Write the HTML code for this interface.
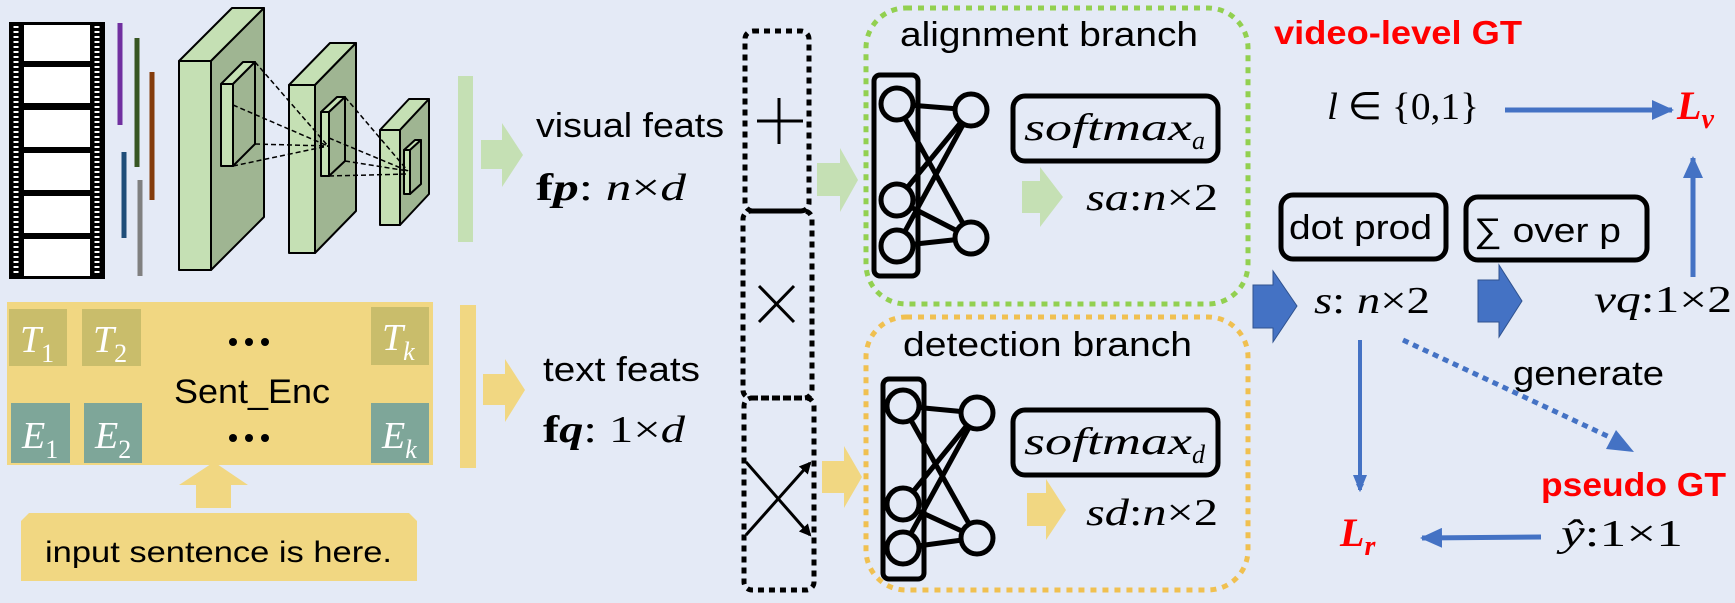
<!DOCTYPE html>
<html><head><meta charset="utf-8"><style>
html,body{margin:0;padding:0;background:#e4eaf6;}
svg{display:block;}
text{font-family:"Liberation Sans",sans-serif;}
.m{font-family:"Liberation Serif",serif;font-style:italic;}
.mr{font-family:"Liberation Serif",serif;}
</style></head><body>
<svg width="1735" height="603" viewBox="0 0 1735 603" xmlns="http://www.w3.org/2000/svg">
<defs>
<marker id="ab" markerWidth="8" markerHeight="8" refX="6" refY="4" orient="auto" markerUnits="userSpaceOnUse"><path d="M0,0 L8,4 L0,8z" fill="#4472c4"/></marker>
<marker id="ab2" markerWidth="22" markerHeight="20" refX="20" refY="10" orient="auto" markerUnits="userSpaceOnUse"><path d="M0,0 L22,10 L0,20z" fill="#4472c4"/></marker>
<marker id="ak" markerWidth="12" markerHeight="12" refX="10" refY="6" orient="auto" markerUnits="userSpaceOnUse"><path d="M0,0 L12,6 L0,12z" fill="#000"/></marker>
</defs>
<rect width="1735" height="603" fill="#e4eaf6"/>

<rect x="9" y="22" width="96" height="257" fill="#000"/>
<g fill="#fff">
<rect x="24" y="25" width="66" height="36"/><rect x="24" y="67" width="66" height="36"/><rect x="24" y="110" width="66" height="37"/><rect x="24" y="153" width="66" height="37"/><rect x="24" y="196" width="66" height="37"/><rect x="24" y="239" width="66" height="37"/>
</g>
<g stroke-width="5">
<line x1="16" y1="26" x2="16" y2="276" stroke="#fff" stroke-dasharray="2,3"/>
<line x1="97" y1="26" x2="97" y2="276" stroke="#fff" stroke-dasharray="2,3"/>
</g>
<g stroke-width="5">
<line x1="120" y1="23" x2="120" y2="125" stroke="#7030a0"/>
<line x1="137" y1="38" x2="137" y2="167" stroke="#375623"/>
<line x1="152" y1="72" x2="152" y2="200" stroke="#843c0c"/>
<line x1="124" y1="152" x2="124" y2="238" stroke="#1f4e79"/>
<line x1="140" y1="180" x2="140" y2="276" stroke="#808080"/>
</g>
<g stroke="#000" stroke-width="2" stroke-linejoin="round">
<polygon points="179,61 232,8 264,8 211,61" fill="#c5e0b4"/>
<polygon points="211,61 264,8 264,217 211,270" fill="#9fb592"/>
<rect x="179" y="61" width="32" height="209" fill="#c5e0b4"/>
<polygon points="221,84 243,62 255,62 233,84" fill="#c5e0b4"/>
<polygon points="233,84 255,62 255,144 233,166" fill="#9fb592"/>
<rect x="221" y="84" width="12" height="82" fill="#c5e0b4"/>
<polygon points="289,85 330,43 356,43 315,85" fill="#c5e0b4"/>
<polygon points="315,85 356,43 356,211 315,253" fill="#9fb592"/>
<rect x="289" y="85" width="26" height="168" fill="#c5e0b4"/>
<polygon points="321,112 337,97 345,97 329,112" fill="#c5e0b4"/>
<polygon points="329,112 345,97 345,161 329,176" fill="#9fb592"/>
<rect x="321" y="112" width="8" height="64" fill="#c5e0b4"/>
<polygon points="380,130 409,99 429,99 400,130" fill="#c5e0b4"/>
<polygon points="400,130 429,99 429,194 400,225" fill="#9fb592"/>
<rect x="380" y="130" width="20" height="95" fill="#c5e0b4"/>
<polygon points="404,150 415,140 421,140 410,150" fill="#c5e0b4"/>
<polygon points="410,150 421,140 421,184 410,194" fill="#9fb592"/>
<rect x="404" y="150" width="6" height="44" fill="#c5e0b4"/>
</g>
<g stroke="#000" stroke-width="1.5" stroke-dasharray="5,3" fill="none">
<line x1="255" y1="62" x2="328" y2="146"/><line x1="233" y1="105" x2="328" y2="146"/><line x1="255" y1="144" x2="328" y2="146"/><line x1="233" y1="166" x2="328" y2="146"/>
<line x1="345" y1="97" x2="408" y2="171"/><line x1="329" y1="138" x2="408" y2="171"/><line x1="345" y1="161" x2="408" y2="171"/><line x1="329" y1="176" x2="408" y2="174"/>
</g>
<rect x="458" y="76" width="15" height="166" fill="#c5e0b4"/>
<polygon points="481,140 502,140 502,123 523,155 502,187 502,169 481,169" fill="#c5e0b4"/>
<text x="536" y="137" font-size="34" textLength="188" lengthAdjust="spacingAndGlyphs">visual feats</text>
<text x="536" y="200" font-size="38" class="mr" font-weight="bold" textLength="150" lengthAdjust="spacingAndGlyphs">f<tspan class="m">p</tspan><tspan font-weight="normal">: </tspan><tspan class="m" font-weight="normal">n</tspan><tspan font-weight="normal">×</tspan><tspan class="m" font-weight="normal">d</tspan></text>

<rect x="7" y="302" width="426" height="163" fill="#f1d782"/>
<rect x="9" y="309" width="58" height="57" fill="#c9bd6b"/>
<rect x="82" y="309" width="59" height="57" fill="#c9bd6b"/>
<rect x="371" y="307" width="58" height="58" fill="#c9bd6b"/>
<rect x="11" y="403" width="59" height="60" fill="#7ea699"/>
<rect x="84" y="403" width="58" height="60" fill="#7ea699"/>
<rect x="371" y="403" width="58" height="60" fill="#7ea699"/>
<g fill="#fff" font-size="38">
<text x="20" y="352" class="m">T<tspan font-size="26" font-style="normal" dy="10">1</tspan></text>
<text x="93" y="352" class="m">T<tspan font-size="26" font-style="normal" dy="10">2</tspan></text>
<text x="382" y="350" class="m">T<tspan font-size="26" dy="10">k</tspan></text>
<text x="22" y="448" class="m">E<tspan font-size="26" font-style="normal" dy="10">1</tspan></text>
<text x="95" y="448" class="m">E<tspan font-size="26" font-style="normal" dy="10">2</tspan></text>
<text x="382" y="448" class="m">E<tspan font-size="26" dy="10">k</tspan></text>
</g>
<g fill="#000"><circle cx="233" cy="342" r="4"/><circle cx="249" cy="342" r="4"/><circle cx="265" cy="342" r="4"/>
<circle cx="233" cy="438" r="4"/><circle cx="249" cy="438" r="4"/><circle cx="265" cy="438" r="4"/></g>
<text x="174" y="403" font-size="34" textLength="156" lengthAdjust="spacingAndGlyphs">Sent_Enc</text>
<polygon points="196,508 231,508 231,485 248,485 214,462 179,485 196,485" fill="#f1d782"/>
<polygon points="29,513 409,513 417,521 417,581 21,581 21,521" fill="#f1d782"/>
<text x="45" y="562" font-size="30" textLength="347" lengthAdjust="spacingAndGlyphs">input sentence is here.</text>
<rect x="460" y="305" width="16" height="163" fill="#f1d782"/>
<polygon points="483,374 505,374 505,359 525,390 505,422 505,405 483,405" fill="#f1d782"/>
<text x="543" y="381" font-size="34" textLength="157" lengthAdjust="spacingAndGlyphs">text feats</text>
<text x="543" y="442" font-size="38" class="mr" font-weight="bold" textLength="142" lengthAdjust="spacingAndGlyphs">f<tspan class="m">q</tspan><tspan font-weight="normal">: 1×</tspan><tspan class="m" font-weight="normal">d</tspan></text>

<g fill="none" stroke="#000" stroke-width="5" stroke-dasharray="6,5">
<rect x="745" y="31" width="64" height="180" rx="8"/>
<rect x="743" y="211" width="69" height="187" rx="8"/>
<rect x="744" y="398" width="70" height="192" rx="8"/>
</g>
<g stroke="#000" stroke-width="3">
<line x1="757" y1="121" x2="803" y2="121"/><line x1="779" y1="98" x2="779" y2="144"/>
<line x1="759" y1="286" x2="794" y2="322"/><line x1="794" y1="286" x2="759" y2="322"/>
<line x1="746" y1="462" x2="810" y2="535" marker-end="url(#ak)"/>
<line x1="746" y1="535" x2="810" y2="463" marker-end="url(#ak)"/>
</g>
<polygon points="817,163 840,163 840,148 858,180 840,212 840,196 817,196" fill="#c5e0b4"/>
<polygon points="822,461 844,461 844,446 862,477 844,508 844,493 822,493" fill="#f1d782"/>

<rect x="866" y="8" width="382" height="296" rx="40" fill="none" stroke="#92d050" stroke-width="5" stroke-dasharray="6,6"/>
<rect x="866" y="317" width="382" height="273" rx="40" fill="none" stroke="#f0c050" stroke-width="5" stroke-dasharray="6,6"/>
<text x="900" y="46" font-size="34" textLength="298" lengthAdjust="spacingAndGlyphs">alignment branch</text>
<text x="903" y="356" font-size="34" textLength="289" lengthAdjust="spacingAndGlyphs">detection branch</text>

<g fill="none" stroke="#000" stroke-width="5">
<rect x="874" y="75" width="44" height="201" rx="6"/>
<line x1="897" y1="104" x2="971" y2="110"/><line x1="897" y1="104" x2="971" y2="238"/>
<line x1="897" y1="200" x2="971" y2="110"/><line x1="897" y1="200" x2="971" y2="238"/>
<line x1="897" y1="246" x2="971" y2="110"/><line x1="897" y1="246" x2="971" y2="238"/>
</g>
<g fill="#e4eaf6" stroke="#000" stroke-width="5">
<circle cx="897" cy="104" r="16"/><circle cx="897" cy="200" r="16"/><circle cx="897" cy="246" r="16"/>
<circle cx="971" cy="110" r="16"/><circle cx="971" cy="238" r="16"/>
</g>
<g fill="none" stroke="#000" stroke-width="5">
<rect x="883" y="379" width="41" height="200" rx="6"/>
<line x1="903" y1="406" x2="977" y2="413"/><line x1="903" y1="406" x2="977" y2="538"/>
<line x1="903" y1="504" x2="977" y2="413"/><line x1="903" y1="504" x2="977" y2="538"/>
<line x1="903" y1="548" x2="977" y2="413"/><line x1="903" y1="548" x2="977" y2="538"/>
</g>
<g fill="#e4eaf6" stroke="#000" stroke-width="5">
<circle cx="903" cy="406" r="16"/><circle cx="903" cy="504" r="16"/><circle cx="903" cy="548" r="16"/>
<circle cx="977" cy="413" r="16"/><circle cx="977" cy="538" r="16"/>
</g>

<rect x="1013" y="96" width="205" height="65" rx="12" fill="none" stroke="#000" stroke-width="5"/>
<text x="1024" y="140" font-size="38" class="m" textLength="168" lengthAdjust="spacingAndGlyphs">softmax</text><text x="1192" y="149" font-size="26" class="m">a</text>
<rect x="1013" y="410" width="205" height="65" rx="12" fill="none" stroke="#000" stroke-width="5"/>
<text x="1024" y="454" font-size="38" class="m" textLength="168" lengthAdjust="spacingAndGlyphs">softmax</text><text x="1192" y="463" font-size="26" class="m">d</text>
<polygon points="1022,181 1040,181 1040,167 1063,197 1040,227 1040,213 1022,213" fill="#c5e0b4"/>
<polygon points="1027,493 1046,493 1046,479 1066,510 1046,540 1046,526 1027,526" fill="#f1d782"/>
<text x="1086" y="210" font-size="38" class="m" textLength="132" lengthAdjust="spacingAndGlyphs">sa<tspan font-style="normal">:</tspan>n<tspan font-style="normal">×2</tspan></text>
<text x="1086" y="525" font-size="38" class="m" textLength="132" lengthAdjust="spacingAndGlyphs">sd<tspan font-style="normal">:</tspan>n<tspan font-style="normal">×2</tspan></text>

<text x="1274" y="44" font-size="33" font-weight="bold" fill="#ff0000" textLength="248" lengthAdjust="spacingAndGlyphs">video-level GT</text>
<text x="1327" y="119" font-size="38" class="mr" textLength="152" lengthAdjust="spacingAndGlyphs"><tspan class="m">l</tspan> ∈ {0,1}</text>
<line x1="1505" y1="110" x2="1672" y2="110" stroke="#4472c4" stroke-width="5" marker-end="url(#ab2)"/>
<text x="1677" y="119" font-size="40" class="m" font-weight="bold" fill="#ff0000">L<tspan font-size="28" dy="9">v</tspan></text>
<line x1="1693" y1="277" x2="1693" y2="158" stroke="#4472c4" stroke-width="5" marker-end="url(#ab2)"/>
<rect x="1281" y="195" width="165" height="64" rx="12" fill="none" stroke="#000" stroke-width="5"/>
<text x="1289" y="239" font-size="34" textLength="143" lengthAdjust="spacingAndGlyphs">dot prod</text>
<rect x="1466" y="197" width="181" height="63" rx="12" fill="none" stroke="#000" stroke-width="5"/>
<text x="1474" y="242" font-size="34" textLength="147" lengthAdjust="spacingAndGlyphs">∑ over p</text>
<polygon points="1253,285 1273,285 1273,271 1297,306 1273,342 1273,328 1253,328" fill="#4472c4" stroke="#2f528f" stroke-width="1"/>
<polygon points="1478,280 1499,280 1499,265 1522,301 1499,337 1499,322 1478,322" fill="#4472c4" stroke="#2f528f" stroke-width="1"/>
<text x="1314" y="313" font-size="38" class="m" textLength="116" lengthAdjust="spacingAndGlyphs">s<tspan font-style="normal">: </tspan>n<tspan font-style="normal">×2</tspan></text>
<text x="1594" y="312" font-size="38" class="m" textLength="138" lengthAdjust="spacingAndGlyphs">vq<tspan font-style="normal">:1×2</tspan></text>
<line x1="1360" y1="340" x2="1360" y2="490" stroke="#4472c4" stroke-width="4" marker-end="url(#ab)"/>
<path d="M1353,475 L1367,475 L1360,492z" fill="#4472c4"/>
<line x1="1403" y1="340" x2="1620" y2="442" stroke="#4472c4" stroke-width="5" stroke-dasharray="6,5"/>
<path d="M1616,430 L1634,452 L1606,449z" fill="#4472c4"/>
<text x="1513" y="385" font-size="34" textLength="151" lengthAdjust="spacingAndGlyphs">generate</text>
<text x="1541" y="496" font-size="33" font-weight="bold" fill="#ff0000" textLength="185" lengthAdjust="spacingAndGlyphs">pseudo GT</text>
<text x="1561" y="546" font-size="38" class="m" textLength="122" lengthAdjust="spacingAndGlyphs">ŷ<tspan font-style="normal">:1×1</tspan></text>
<line x1="1541" y1="537" x2="1422" y2="538" stroke="#4472c4" stroke-width="5" marker-end="url(#ab2)"/>
<text x="1340" y="546" font-size="40" class="m" font-weight="bold" fill="#ff0000">L<tspan font-size="28" dy="9">r</tspan></text>
</svg>
</body></html>
